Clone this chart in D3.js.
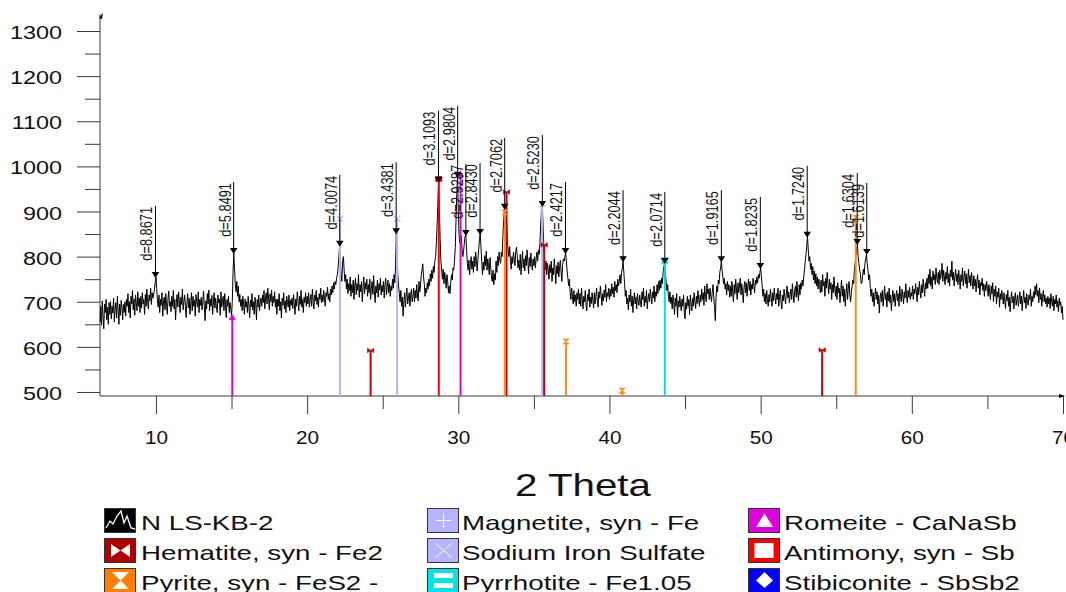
<!DOCTYPE html>
<html>
<head>
<meta charset="utf-8">
<script src="https://cdn.jsdelivr.net/npm/d3@7"></script>
<style>
  html, body { margin: 0; padding: 0; background: #fff; overflow: hidden; }
  svg { display: block; font-family: "Liberation Sans", Arial, sans-serif; }
</style>
</head>
<body>
<svg id="chart" width="1066" height="592"></svg>
<script>
// ---- scan: N LS-KB-2, counts every 0.05 deg 2-theta starting at 6.30 ----
const scanStart = 6.3;
const scanStep = 0.05;
const counts = [
  655, 690, 648, 702, 668, 640, 695, 676, 705, 660, 688, 650, 698, 672,                          // 6.30
  700, 662, 690, 675, 708, 655, 684, 698, 664, 712, 680, 650, 695, 670, 703, 688, 660, 694, 676, 700,   // 7
  668, 705, 690, 718, 676, 700, 664, 712, 695, 725, 682, 706, 670, 715, 698, 680, 722, 690, 708, 676,   // 8
  712, 686, 720, 695, 705, 672, 716, 690, 728, 700, 684, 715, 702, 730, 694, 720, 708, 715, 728, 742,   // 9
  755, 730, 702, 688, 715, 676, 705, 692, 720, 668, 700, 710, 682, 718, 695, 672, 708, 724, 690, 700,   // 10
  678, 712, 690, 725, 684, 705, 660, 698, 716, 688, 722, 700, 676, 710, 694, 728, 682, 700, 715, 690,   // 11
  665, 700, 718, 686, 708, 672, 695, 720, 680, 712, 690, 704, 668, 716, 698, 688, 722, 676, 705, 692,   // 12
  710, 682, 700, 724, 690, 658, 702, 684, 718, 695, 726, 680, 706, 690, 714, 672, 700, 720, 686, 708,   // 13
  690, 676, 715, 698, 706, 670, 722, 688, 700, 712, 680, 718, 694, 665, 705, 690, 712, 676, 698, 685,   // 14
  668, 700, 765, 808, 770, 740, 722, 745, 712, 735, 700, 716, 690, 705, 680, 712, 695, 672, 706, 688,   // 15
  700, 676, 712, 690, 665, 704, 688, 718, 682, 700, 672, 710, 695, 660, 705, 688, 715, 680, 698, 708,   // 16
  690, 715, 698, 725, 684, 708, 720, 695, 730, 705, 682, 718, 700, 726, 690, 712, 698, 722, 688, 706,   // 17
  672, 705, 690, 718, 680, 700, 664, 708, 692, 720, 684, 702, 676, 712, 698, 688, 715, 680, 704, 692,   // 18
  708, 685, 716, 695, 672, 706, 690, 722, 700, 680, 712, 694, 725, 688, 705, 676, 710, 698, 720, 690,   // 19
  712, 695, 720, 688, 705, 716, 690, 728, 700, 684, 715, 702, 725, 694, 710, 688, 718, 705, 730, 698,   // 20
  715, 700, 725, 708, 690, 720, 712, 732, 705, 718, 700, 728, 715, 735, 720, 742, 728, 745, 738, 752,   // 21
  760, 775, 800, 824, 790, 760, 745, 790, 800, 770, 745, 760, 728, 750, 718, 740, 725, 755, 712, 738,   // 22
  720, 748, 705, 735, 752, 716, 740, 725, 760, 710, 738, 722, 745, 700, 732, 755, 718, 742, 728, 750,   // 23
  712, 738, 720, 750, 705, 730, 745, 716, 758, 725, 698, 735, 720, 748, 710, 740, 726, 752, 715, 736,   // 24
  722, 745, 708, 738, 752, 715, 732, 748, 720, 740, 712, 735, 725, 750, 730, 760, 742, 780, 852, 800,   // 25
  760, 735, 718, 700, 725, 690, 710, 668, 702, 720, 688, 712, 730, 695, 708, 720, 690, 715, 728, 700,   // 26
  712, 730, 700, 725, 708, 738, 715, 702, 745, 722, 735, 760, 770, 784, 755, 740, 712, 730, 720, 742,   // 27
  728, 750, 735, 762, 745, 770, 752, 778, 765, 790, 800, 830, 870, 920, 966, 900, 840, 790, 770, 750,   // 28
  772, 740, 765, 752, 730, 760, 745, 720, 735, 718, 742, 760, 748, 775, 770, 790, 820, 880, 940, 977,   // 29
  900, 850, 830, 842, 846, 815, 800, 812, 830, 845, 848, 815, 785, 770, 792, 760, 785, 800, 772, 790,   // 30
  765, 800, 778, 810, 790, 768, 795, 815, 840, 850, 822, 790, 760, 788, 770, 802, 780, 812, 770, 795,   // 31
  780, 760, 798, 775, 752, 745, 770, 738, 762, 748, 790, 765, 800, 780, 810, 792, 785, 810, 800, 845,   // 32
  880, 906, 895, 870, 877, 830, 815, 800, 822, 790, 772, 800, 785, 810, 795, 780, 812, 821, 800, 775,   // 33
  792, 770, 805, 760, 788, 812, 775, 795, 768, 802, 780, 815, 790, 762, 798, 778, 808, 785, 770, 795,   // 34
  780, 800, 775, 795, 810, 790, 815, 805, 830, 870, 900, 912, 880, 830, 800, 770, 790, 760, 785, 770,   // 35
  750, 782, 765, 790, 745, 775, 760, 795, 770, 740, 780, 762, 788, 755, 778, 792, 766, 745, 780, 795,   // 36
  790, 800, 808, 790, 768, 752, 735, 750, 720, 705, 730, 712, 695, 725, 700, 715, 690, 720, 705, 728,   // 37
  695, 718, 690, 730, 705, 684, 712, 700, 725, 692, 680, 716, 702, 728, 688, 710, 696, 720, 704, 686,   // 38
  720, 695, 712, 730, 700, 688, 722, 708, 735, 715, 692, 718, 702, 726, 710, 738, 700, 720, 712, 730,   // 39
  705, 728, 712, 740, 718, 732, 710, 745, 725, 738, 720, 750, 735, 745, 760, 740, 765, 775, 790, 765,   // 40
  740, 712, 725, 695, 708, 682, 715, 700, 728, 690, 712, 676, 705, 720, 695, 710, 684, 718, 700, 692,   // 41
  715, 700, 688, 722, 705, 730, 690, 712, 698, 725, 684, 706, 718, 700, 728, 712, 695, 722, 708, 735,   // 42
  700, 722, 712, 738, 718, 745, 725, 748, 730, 752, 740, 765, 778, 786, 760, 745, 725, 738, 712, 700,   // 43
  722, 696, 710, 684, 715, 700, 672, 708, 690, 718, 665, 702, 688, 712, 695, 680, 706, 690, 715, 676,   // 44
  662, 698, 684, 712, 690, 705, 672, 715, 695, 680, 708, 690, 720, 700, 685, 712, 696, 725, 705, 690,   // 45
  715, 700, 728, 705, 720, 692, 735, 712, 700, 740, 718, 728, 705, 730, 715, 700, 722, 738, 710, 690,   // 46
  658, 710, 735, 722, 748, 740, 765, 775, 790, 770, 755, 740, 752, 728, 740, 715, 745, 725, 738, 710,   // 47
  735, 712, 745, 722, 700, 738, 718, 750, 728, 705, 742, 720, 735, 752, 715, 740, 725, 698, 732, 745,   // 48
  720, 742, 712, 735, 750, 725, 745, 715, 738, 728, 752, 735, 720, 748, 738, 755, 742, 760, 752, 765,   // 49
  775, 755, 735, 712, 728, 700, 718, 695, 725, 705, 690, 716, 700, 728, 708, 690, 720, 702, 730, 710,   // 50
  695, 718, 705, 730, 690, 712, 725, 700, 684, 715, 702, 728, 710, 695, 720, 735, 708, 722, 698, 715,   // 51
  728, 705, 740, 715, 698, 725, 735, 710, 745, 720, 702, 738, 715, 742, 728, 748, 735, 755, 770, 790,   // 52
  805, 825, 844, 815, 790, 800, 772, 785, 760, 778, 748, 768, 740, 762, 735, 755, 728, 750, 738, 720,   // 53
  748, 722, 760, 735, 745, 712, 752, 730, 765, 740, 718, 750, 728, 742, 705, 738, 720, 755, 730, 712,   // 54
  735, 705, 742, 720, 730, 698, 725, 748, 712, 735, 700, 728, 690, 722, 740, 705, 730, 745, 715, 700,   // 55
  720, 735, 748, 740, 770, 785, 800, 815, 828, 800, 785, 770, 762, 740, 742, 760, 772, 760, 785, 795,   // 56
  806, 785, 770, 748, 760, 735, 712, 728, 700, 720, 690, 712, 730, 705, 722, 695, 715, 675, 708, 720,   // 57
  700, 725, 690, 712, 735, 705, 718, 688, 722, 702, 730, 698, 715, 680, 708, 725, 700, 718, 690, 712,   // 58
  725, 702, 718, 690, 735, 712, 700, 728, 715, 695, 722, 708, 740, 715, 698, 725, 710, 732, 705, 720,   // 59
  712, 735, 705, 728, 718, 740, 722, 700, 732, 715, 745, 725, 708, 738, 720, 750, 730, 712, 742, 728,   // 60
  752, 730, 760, 740, 772, 735, 755, 728, 768, 748, 760, 738, 775, 752, 742, 765, 738, 770, 750, 762,   // 61
  785, 745, 770, 755, 738, 765, 750, 778, 742, 762, 735, 770, 755, 790, 748, 765, 735, 758, 772, 745,   // 62
  762, 738, 770, 752, 728, 760, 745, 775, 735, 755, 768, 740, 762, 730, 750, 772, 742, 758, 735, 765,   // 63
  745, 728, 758, 735, 750, 722, 745, 760, 730, 748, 715, 742, 735, 752, 725, 740, 712, 738, 725, 745,   // 64
  730, 712, 738, 720, 705, 735, 718, 742, 700, 728, 712, 735, 695, 722, 710, 730, 688, 718, 705, 725,   // 65
  712, 695, 720, 700, 685, 716, 702, 725, 690, 710, 678, 705, 722, 698, 712, 684, 708, 720, 692, 705,   // 66
  715, 690, 708, 722, 695, 712, 680, 705, 725, 698, 710, 685, 718, 700, 692, 715, 705, 728, 690, 712,   // 67
  700, 722, 708, 735, 715, 740, 712, 725, 698, 730, 705, 718, 690, 712, 725, 700, 715, 695, 708, 688,   // 68
  712, 695, 708, 685, 718, 700, 690, 712, 680, 705, 695, 715, 688, 702, 678, 708, 692, 700, 675, 690,   // 69
  660                                                                                               // 70
];

// ---- peak search results: position, height, d-spacing label ----
const peakTheta  = [9.97, 15.14, 22.16, 25.89, 28.69, 29.96, 30.50, 31.44, 33.07,
                    35.56, 37.09, 40.90, 43.66, 47.40, 49.98, 53.08, 56.39, 57.02];
const peakCounts = [755, 808, 824, 852, 966, 977, 848, 850, 906,
                    912, 808, 790, 786, 790, 775, 844, 828, 806];
const peakD      = ["8.8671", "5.8491", "4.0074", "3.4381", "3.1093", "2.9804", "2.9287", "2.8430", "2.7062",
                    "2.5230", "2.4217", "2.2044", "2.0714", "1.9165", "1.8235", "1.7240", "1.6304", "1.6139"];

// ---- reference patterns (stick positions and heights) ----
const hematiteTheta = [24.20, 33.19, 35.68, 54.07];
const hematiteCounts = [592, 943, 826, 593];
const pyriteTheta = [33.08, 37.12, 40.84, 56.29];
const pyriteCounts = [898, 612, 503, 886];
const magnetiteTheta = [35.55];
const magnetiteCounts = [912];
const sodiumTheta = [22.17, 25.95];
const sodiumCounts = [884, 884];
const pyrrhotiteTheta = [43.66];
const pyrrhotiteCounts = [791];
const romeiteTheta = [15.05, 30.15];
const romeiteCounts = [666, 983];
const antimonyTheta = [28.71];
const antimonyCounts = [972];
const stibiconiteTheta = [];
const stibiconiteCounts = [];

// ---- axis ticks and legend text ----
const xTicks = [10, 20, 30, 40, 50, 60, 70];
const xMinorTicks = [15, 25, 35, 45, 55, 65];
const yTicks = [500, 600, 700, 800, 900, 1000, 1100, 1200, 1300];
const yMinorTicks = [550, 650, 750, 850, 950, 1050, 1150, 1250];
const xTitle = "2 Theta";
const legendNames = [
  "N LS-KB-2", "Hematite, syn - Fe2", "Pyrite, syn - FeS2 -",
  "Magnetite, syn - Fe", "Sodium Iron Sulfate", "Pyrrhotite - Fe1.05",
  "Romeite - CaNaSb", "Antimony, syn - Sb", "Stibiconite - SbSb2"
];

// ---------------------------------------------------------------
const svg = d3.select("#chart");
const axisColor = "#3a3a3a";

const plot = { left: 100, right: 1063, top: 14, bottom: 396 };
const x = d3.scaleLinear().domain([6.3, 70]).range([plot.left, plot.right]);
const y = d3.scaleLinear().domain([491.1, 1337.7]).range([plot.bottom, plot.top]);

// stretch text along its own direction
function stretch(sel, k) {
  sel.each(function () {
    const w = this.getComputedTextLength();
    this.setAttribute("textLength", (w * k).toFixed(2));
    this.setAttribute("lengthAdjust", "spacingAndGlyphs");
  });
}

// ---- axes ----
const gy = svg.append("g").attr("transform", `translate(${plot.left},0)`)
  .call(d3.axisLeft(y).tickValues(yTicks).tickSize(23).tickPadding(15).tickFormat(d3.format("d")));
const gyMinor = svg.append("g").attr("transform", `translate(${plot.left},0)`)
  .call(d3.axisLeft(y).tickValues(yMinorTicks).tickSize(15).tickFormat(""));
const gx = svg.append("g").attr("transform", `translate(0,${plot.bottom})`)
  .call(d3.axisBottom(x).tickValues(xTicks).tickSize(18).tickPadding(17).tickFormat(d3.format("d")));
const gxMinor = svg.append("g").attr("transform", `translate(0,${plot.bottom})`)
  .call(d3.axisBottom(x).tickValues(xMinorTicks).tickSize(13).tickFormat(""));

[gy, gyMinor, gx, gxMinor].forEach(g => {
  g.select(".domain").remove();
  g.selectAll(".tick line").attr("stroke", axisColor).attr("stroke-width", 1);
  g.selectAll(".tick text").attr("fill", "#111").attr("font-size", 18)
    .attr("font-family", "'Liberation Sans', Arial, sans-serif");
});
gy.selectAll(".tick text").attr("dy", "0.42em");
stretch(gy.selectAll(".tick text"), 1.3);
stretch(gx.selectAll(".tick text"), 1.15);

svg.append("line").attr("x1", plot.left).attr("x2", plot.left)
  .attr("y1", plot.bottom).attr("y2", plot.top)
  .attr("stroke", axisColor).attr("stroke-width", 1);
svg.append("line").attr("x1", plot.left).attr("x2", plot.right)
  .attr("y1", plot.bottom).attr("y2", plot.bottom)
  .attr("stroke", axisColor).attr("stroke-width", 1);
// small arrow heads at the axis ends
svg.append("path").attr("fill", "#000")
  .attr("d", `M${plot.left - 1},${plot.top + 4} L${plot.left + 3},${plot.top - 1} L${plot.left + 2},${plot.top + 5} Z`);
svg.append("path").attr("fill", "#000")
  .attr("d", `M${plot.right - 4},${plot.bottom - 2} L${plot.right + 2},${plot.bottom} L${plot.right - 4},${plot.bottom + 2} Z`);

// ---- measured pattern ----
const scan = counts.map((c, i) => ({ t: scanStart + i * scanStep, c }));
svg.append("path")
  .datum(scan)
  .attr("fill", "none")
  .attr("stroke", "#000")
  .attr("stroke-width", 1)
  .attr("stroke-linejoin", "round")
  .attr("d", d3.line().x(d => x(d.t)).y(d => y(d.c)));

// ---- reference sticks with their markers ----
const marker = {
  bowtie: (cx, cy, s) => `M${cx - s},${cy - s * 0.7} L${cx},${cy} L${cx - s},${cy + s * 0.7} Z M${cx + s},${cy - s * 0.7} L${cx},${cy} L${cx + s},${cy + s * 0.7} Z`,
  hourglass: (cx, cy, s) => `M${cx - s},${cy - s * 0.8} L${cx + s},${cy - s * 0.8} L${cx},${cy} Z M${cx - s},${cy + s * 0.8} L${cx + s},${cy + s * 0.8} L${cx},${cy} Z`,
  triangle: (cx, cy, s) => `M${cx - s},${cy + s * 0.8} L${cx},${cy - s * 0.8} L${cx + s},${cy + s * 0.8} Z`,
  square: (cx, cy, s) => `M${cx - s},${cy - s * 0.8} H${cx + s} V${cy + s * 0.8} H${cx - s} Z`,
  diamond: (cx, cy, s) => `M${cx},${cy - s} L${cx + s},${cy} L${cx},${cy + s} L${cx - s},${cy} Z`,
  cross: (cx, cy, s) => `M${cx - s},${cy - s} L${cx + s},${cy + s} M${cx - s},${cy + s} L${cx + s},${cy - s}`,
  plus: (cx, cy, s) => `M${cx - s},${cy} H${cx + s} M${cx},${cy - s} V${cy + s}`,
  equals: (cx, cy, s) => `M${cx - s},${cy - s * 0.9} h${2 * s} v${s * 0.6} h${-2 * s} Z M${cx - s},${cy + s * 0.3} h${2 * s} v${s * 0.6} h${-2 * s} Z`
};

const phases = [
  { theta: sodiumTheta, counts: sodiumCounts, color: "#b4b4ff", shape: "cross", stroked: true },
  { theta: magnetiteTheta, counts: magnetiteCounts, color: "#b4b4ff", shape: "plus", stroked: true },
  { theta: hematiteTheta, counts: hematiteCounts, color: "#c00000", shape: "bowtie" },
  { theta: pyriteTheta, counts: pyriteCounts, color: "#ff8a1c", shape: "hourglass" },
  { theta: pyrrhotiteTheta, counts: pyrrhotiteCounts, color: "#00e0e0", shape: "equals" },
  { theta: romeiteTheta, counts: romeiteCounts, color: "#e000e0", shape: "triangle" },
  { theta: antimonyTheta, counts: antimonyCounts, color: "#ff0000", shape: "square" },
  { theta: stibiconiteTheta, counts: stibiconiteCounts, color: "#0000ff", shape: "diamond" }
];

const sticks = svg.append("g");
phases.forEach(p => {
  const rows = p.theta.map((t, i) => ({ t, c: p.counts[i] }));
  sticks.selectAll(null).data(rows).enter().append("line")
    .attr("x1", d => x(d.t)).attr("x2", d => x(d.t))
    .attr("y1", y.range()[0]).attr("y2", d => y(d.c))
    .attr("stroke", p.color).attr("stroke-width", 2);
  sticks.selectAll(null).data(rows).enter().append("path")
    .attr("d", d => marker[p.shape](x(d.t), y(d.c), 3.2))
    .attr("fill", p.stroked ? "none" : p.color)
    .attr("stroke", p.color)
    .attr("stroke-width", p.stroked ? 1.1 : 0.6);
});

// ---- peak markers with d-spacing labels ----
const peaks = peakTheta.map((t, i) => ({ t, c: peakCounts[i], d: peakD[i] }));
const peakLayer = svg.append("g");
const stemLen = 71;
peakLayer.selectAll(".stem").data(peaks).enter().append("line")
  .attr("class", "stem")
  .attr("x1", d => x(d.t)).attr("x2", d => x(d.t))
  .attr("y1", d => y(d.c) - stemLen).attr("y2", d => y(d.c) - 4)
  .attr("stroke", "#000").attr("stroke-width", 1);
peakLayer.selectAll(".tip").data(peaks).enter().append("path")
  .attr("class", "tip")
  .attr("d", d => {
    const px = x(d.t), py = y(d.c) + 1;
    return `M${px - 3.8},${py - 6} L${px + 3.8},${py - 6} L${px},${py} Z`;
  })
  .attr("fill", "#000");
const peakText = peakLayer.selectAll(".plabel").data(peaks).enter().append("text")
  .attr("class", "plabel")
  .attr("transform", d => `translate(${x(d.t) - 3},${y(d.c) - stemLen + 1}) rotate(-90)`)
  .attr("text-anchor", "end")
  .attr("font-size", 16)
  .attr("fill", "#111")
  .text(d => "d=" + d.d);
stretch(peakText, 0.8);

// ---- axis title ----
const title = svg.append("text")
  .attr("x", 583).attr("y", 496)
  .attr("text-anchor", "middle")
  .attr("font-size", 32)
  .attr("fill", "#111")
  .text(xTitle);
stretch(title, 1.26);

// ---- legend ----
const legendColors = ["#000000", "#b00000", "#ff8000", "#b4b4ff", "#b4b4ff", "#00e5e5", "#e000e0", "#ff0000", "#0000ff"];
const legendX = [104, 427, 748];
const legendRowY = [508, 538, 568];
const legend = svg.append("g");
legendNames.forEach((name, i) => {
  const col = Math.floor(i / 3), row = i % 3;
  const bx = legendX[col], by = legendRowY[row];
  const g = legend.append("g").attr("transform", `translate(${bx},${by})`);
  g.append("rect").attr("x", 0.5).attr("y", 0.5).attr("width", 31).attr("height", 24)
    .attr("fill", legendColors[i]).attr("stroke", "#333").attr("stroke-width", 1);
  const w = "#ffffff";
  switch (i) {
    case 0:
      g.append("polyline")
        .attr("points", "2,20 6,13 9,16 13,8 17,3 20,15 23,8 27,20 31,21")
        .attr("fill", "none").attr("stroke", w).attr("stroke-width", 1.3);
      break;
    case 1:
      g.append("path").attr("d", "M7,6 L16.5,12.5 L7,19 Z M26,6 L16.5,12.5 L26,19 Z").attr("fill", w);
      break;
    case 2:
      g.append("path").attr("d", "M8,4 L25,4 L16.5,12.5 Z M8,21 L25,21 L16.5,12.5 Z").attr("fill", w);
      break;
    case 3:
      g.append("path").attr("d", "M9,12.5 H24 M16.5,5 V20").attr("stroke", w).attr("stroke-width", 1);
      break;
    case 4:
      g.append("path").attr("d", "M8,5 L25,20 M8,20 L25,5").attr("stroke", w).attr("stroke-width", 1);
      break;
    case 5:
      g.append("path").attr("d", "M7,5 H26 V10 H7 Z M7,15 H26 V20 H7 Z").attr("fill", w);
      break;
    case 6:
      g.append("path").attr("d", "M8,19 L16.5,5.5 L25,19 Z").attr("fill", w);
      break;
    case 7:
      g.append("rect").attr("x", 6.5).attr("y", 5).attr("width", 19).attr("height", 15).attr("fill", w);
      break;
    case 8:
      g.append("path").attr("d", "M16.5,4 L25,12.5 L16.5,20 L8,12.5 Z").attr("fill", w);
      break;
  }
  const t = legend.append("text")
    .attr("x", [141, 462, 784][col])
    .attr("y", by + 22)
    .attr("font-size", 21)
    .attr("fill", "#111")
    .text(name);
  stretch(t, 1.32);
});
</script>
</body>
</html>
